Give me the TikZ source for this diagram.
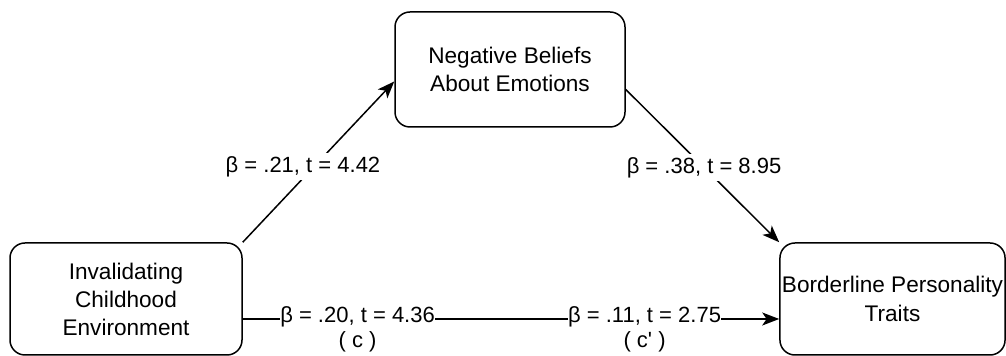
\documentclass[tikz,border=0pt]{standalone}
\usepackage{fontspec}
\setmainfont{Liberation Sans}
\usetikzlibrary{arrows.meta}

\begin{document}
\begin{tikzpicture}[x=0.5pt,y=-0.5pt,
  varbox/.style={draw,line width=0.75pt,rounded corners=7.5pt,align=center,inner sep=1pt,
    font=\fontsize{11.3}{14}\selectfont},
  coeff/.style={fill=white,inner sep=1.5pt,font=\fontsize{11}{12.5}\selectfont},
  coeffc/.style={fill=white,inner xsep=0pt,inner ysep=0.5pt,align=center,yshift=-5pt,
    font=\fontsize{11}{12.5}\selectfont},
  link/.style={line width=0.75pt,-{Stealth[length=8.5pt,width=6.5pt,inset=2.2pt]}}]

\useasboundingbox (0,0) rectangle (1006,356);

\node[varbox,minimum width=116pt,minimum height=56pt] (inv) at (126,299) {Invalidating\\Childhood\\Environment};
\node[varbox,minimum width=115pt,minimum height=57.5pt] (neg) at (510,69.5) {Negative Beliefs\\About Emotions};
\node[varbox,minimum width=112.5pt,minimum height=56pt] (bpd) at (892.5,299) {Borderline Personality\\[0.5pt]Traits};

\draw[link] (inv.north east) -- node[coeff,pos=.47,xshift=-5.5pt] (a) {β = .21, t = 4.42} ([yshift=-6pt]neg.west);
\draw[link] ([yshift=-10pt]neg.east) -- node[coeff,pos=.51] (b) {β = .38, t = 8.95} (bpd.north west);

\draw[link] ([yshift=-10pt]inv.east) -- node[coeffc,pos=.214] (c) {β = .20, t = 4.36\\( c )}
  node[coeffc,pos=.749] (cp) {β = .11, t = 2.75\\( c\textquotesingle\ )} ([yshift=-10pt]bpd.west);

\end{tikzpicture}
\end{document}
